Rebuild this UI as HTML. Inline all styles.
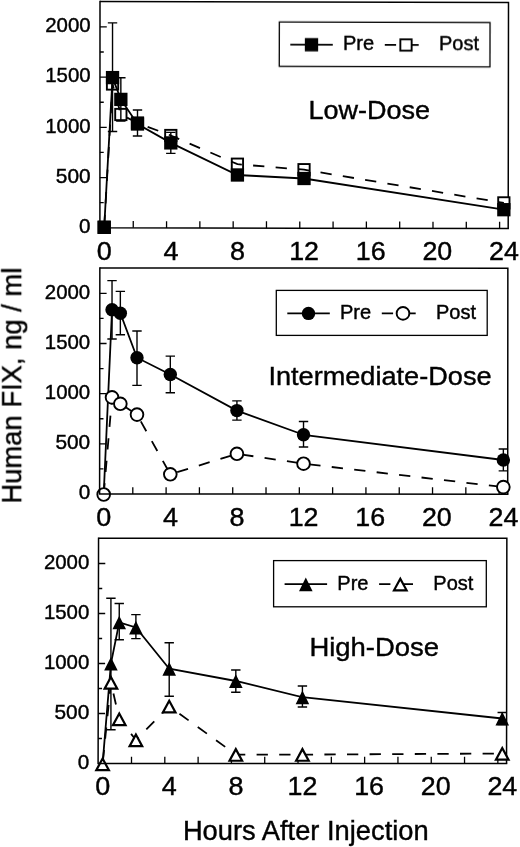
<!DOCTYPE html>
<html lang="en"><head><meta charset="utf-8"><title>Human FIX, ng / ml vs Hours After Injection</title>
<style>
html,body{margin:0;padding:0;background:#fff;}
body{width:520px;height:847px;overflow:hidden;font-family:"Liberation Sans", sans-serif;}
svg{display:block;}
</style></head><body>
<svg width="520" height="847" viewBox="0 0 520 847" font-family='"Liberation Sans", sans-serif' fill="#000">
<style>text{stroke:#000;stroke-width:0.42px;}</style>
<rect width="520" height="847" fill="#fff"/>
<g opacity="0.999">
<g><path d="M100,1.4 L508.5,2.6 L508.2,228.6" fill="none" stroke="#000" stroke-width="1.5" stroke-linejoin="miter"/>
<path d="M99.91,202.69 h3.8 M99.92,177.58 h6.8 M99.93,152.46 h3.8 M99.94,127.35 h6.8 M99.96,102.24 h3.8 M99.97,77.12 h6.8 M99.98,52.01 h3.8 M99.99,26.9 h6.8 M133.25,227.87 v-6.8 M166.56,227.93 v-6.8 M199.86,228 v-6.8 M233.17,228.06 v-6.8 M266.47,228.13 v-6.8 M299.77,228.19 v-6.8 M333.08,228.26 v-6.8 M366.38,228.32 v-6.8 M399.69,228.39 v-6.8 M432.99,228.45 v-6.8 M466.29,228.52 v-6.8 M499.6,228.58 v-6.8 " stroke="#000" stroke-width="1.3" fill="none"/>
<text x="90.6" y="233" font-size="20.4" text-anchor="end" textLength="11.5" lengthAdjust="spacingAndGlyphs">0</text>
<text x="90.6" y="182.78" font-size="20.4" text-anchor="end" textLength="34.8" lengthAdjust="spacingAndGlyphs">500</text>
<text x="90.6" y="132.55" font-size="20.4" text-anchor="end" textLength="45.4" lengthAdjust="spacingAndGlyphs">1000</text>
<text x="90.6" y="82.33" font-size="20.4" text-anchor="end" textLength="45.4" lengthAdjust="spacingAndGlyphs">1500</text>
<text x="90.6" y="32.1" font-size="20.4" text-anchor="end" textLength="45.4" lengthAdjust="spacingAndGlyphs">2000</text>
<text x="104.3" y="259.7" font-size="25.6" text-anchor="middle" textLength="15" lengthAdjust="spacingAndGlyphs">0</text>
<text x="170.91" y="259.7" font-size="25.6" text-anchor="middle" textLength="15" lengthAdjust="spacingAndGlyphs">4</text>
<text x="237.52" y="259.7" font-size="25.6" text-anchor="middle" textLength="15" lengthAdjust="spacingAndGlyphs">8</text>
<text x="304.12" y="259.7" font-size="25.6" text-anchor="middle" textLength="29.8" lengthAdjust="spacingAndGlyphs">12</text>
<text x="370.73" y="259.7" font-size="25.6" text-anchor="middle" textLength="29.8" lengthAdjust="spacingAndGlyphs">16</text>
<text x="437.34" y="259.7" font-size="25.6" text-anchor="middle" textLength="29.8" lengthAdjust="spacingAndGlyphs">20</text>
<text x="503.95" y="259.7" font-size="25.6" text-anchor="middle" textLength="29.8" lengthAdjust="spacingAndGlyphs">24</text>
<rect x="98.55" y="221.65" width="11.3" height="11.3" fill="#fff" stroke="#000" stroke-width="1.9"/>
<rect x="106.88" y="78.35" width="11.3" height="11.3" fill="#fff" stroke="#000" stroke-width="1.9"/>
<rect x="115.2" y="108.85" width="11.3" height="11.3" fill="#fff" stroke="#000" stroke-width="1.9"/>
<rect x="131.85" y="117.35" width="11.3" height="11.3" fill="#fff" stroke="#000" stroke-width="1.9"/>
<rect x="165.16" y="129.85" width="11.3" height="11.3" fill="#fff" stroke="#000" stroke-width="1.9"/>
<rect x="231.77" y="158.55" width="11.3" height="11.3" fill="#fff" stroke="#000" stroke-width="1.9"/>
<rect x="298.37" y="164.05" width="11.3" height="11.3" fill="#fff" stroke="#000" stroke-width="1.9"/>
<rect x="498.2" y="197.25" width="11.3" height="11.3" fill="#fff" stroke="#000" stroke-width="1.9"/>
<polyline points="104.2,227.3 112.53,84 120.85,114.5 137.5,123 170.81,135.5 237.42,164.2 304.02,169.7 503.85,202.9" fill="none" stroke="#000" stroke-width="1.8" stroke-dasharray="11.3 11.3" stroke-dashoffset="-1.3"/>
<polyline points="104.2,227.3 112.53,77.6 120.85,99.4 137.5,124 170.81,142.9 237.42,175 304.02,178.5 503.85,209.7" fill="none" stroke="#000" stroke-width="1.8"/>
<path d="M112.53,22.9 V131.5 M107.83,22.9 h9.4 M107.83,131.5 h9.4 M120.85,77.7 V121 M116.15,77.7 h9.4 M116.15,121 h9.4 M137.5,110 V136 M132.8,110 h9.4 M132.8,136 h9.4 M170.81,132.4 V153.4 M166.11,132.4 h9.4 M166.11,153.4 h9.4 " stroke="#000" stroke-width="1.4" fill="none"/>
<rect x="97.55" y="220.65" width="13.3" height="13.3" fill="#000" stroke="#000" stroke-width="0"/>
<rect x="105.88" y="70.95" width="13.3" height="13.3" fill="#000" stroke="#000" stroke-width="0"/>
<rect x="114.2" y="92.75" width="13.3" height="13.3" fill="#000" stroke="#000" stroke-width="0"/>
<rect x="130.85" y="117.35" width="13.3" height="13.3" fill="#000" stroke="#000" stroke-width="0"/>
<rect x="164.16" y="136.25" width="13.3" height="13.3" fill="#000" stroke="#000" stroke-width="0"/>
<rect x="230.77" y="168.35" width="13.3" height="13.3" fill="#000" stroke="#000" stroke-width="0"/>
<rect x="297.37" y="171.85" width="13.3" height="13.3" fill="#000" stroke="#000" stroke-width="0"/>
<rect x="497.2" y="203.05" width="13.3" height="13.3" fill="#000" stroke="#000" stroke-width="0"/>
<path d="M100,0.65 L99.9,227.8 L508.95,228.6" fill="none" stroke="#000" stroke-width="1.5" stroke-linejoin="miter"/>
<g transform="rotate(0.17 384.65 44.45)">
<rect x="279.3" y="22.3" width="210.7" height="44.3" fill="#fff" stroke="#000" stroke-width="1.3"/>
<path d="M290.3,44.95 h42.5" stroke="#000" stroke-width="1.8"/>
<rect x="304.85" y="38.3" width="13.3" height="13.3" fill="#000" stroke="#000" stroke-width="0"/>
<text x="343" y="50.35" font-size="20" textLength="31.2" lengthAdjust="spacingAndGlyphs">Pre</text>
<path d="M384.8,44.95 h11.3 M407.4,44.95 h11.3" stroke="#000" stroke-width="1.8"/>
<rect x="400.35" y="39.3" width="11.3" height="11.3" fill="#fff" stroke="#000" stroke-width="1.9"/>
<text x="439" y="50.35" font-size="20" textLength="40" lengthAdjust="spacingAndGlyphs">Post</text>
</g>
<text x="308.4" y="118.8" font-size="26.5" textLength="121.7" lengthAdjust="spacingAndGlyphs">Low-Dose</text></g>
<g><path d="M99.85,268 L507.85,268.2 L507.7,494.15" fill="none" stroke="#000" stroke-width="1.5" stroke-linejoin="miter"/>
<path d="M99.63,468.91 h3.8 M99.66,443.82 h6.8 M99.68,418.74 h3.8 M99.71,393.65 h6.8 M99.74,368.56 h3.8 M99.77,343.48 h6.8 M99.79,318.39 h3.8 M99.82,293.3 h6.8 M132.8,494.01 v-6.8 M166.11,494.02 v-6.8 M199.41,494.04 v-6.8 M232.72,494.05 v-6.8 M266.02,494.06 v-6.8 M299.32,494.07 v-6.8 M332.63,494.09 v-6.8 M365.93,494.1 v-6.8 M399.24,494.11 v-6.8 M432.54,494.12 v-6.8 M465.84,494.13 v-6.8 M499.15,494.15 v-6.8 " stroke="#000" stroke-width="1.3" fill="none"/>
<text x="90.2" y="499.2" font-size="20.4" text-anchor="end" textLength="11.5" lengthAdjust="spacingAndGlyphs">0</text>
<text x="90.2" y="449.02" font-size="20.4" text-anchor="end" textLength="34.8" lengthAdjust="spacingAndGlyphs">500</text>
<text x="90.2" y="398.85" font-size="20.4" text-anchor="end" textLength="45.4" lengthAdjust="spacingAndGlyphs">1000</text>
<text x="90.2" y="348.68" font-size="20.4" text-anchor="end" textLength="45.4" lengthAdjust="spacingAndGlyphs">1500</text>
<text x="90.2" y="298.5" font-size="20.4" text-anchor="end" textLength="45.4" lengthAdjust="spacingAndGlyphs">2000</text>
<text x="103.8" y="526.2" font-size="25.6" text-anchor="middle" textLength="15" lengthAdjust="spacingAndGlyphs">0</text>
<text x="170.41" y="526.2" font-size="25.6" text-anchor="middle" textLength="15" lengthAdjust="spacingAndGlyphs">4</text>
<text x="237.02" y="526.2" font-size="25.6" text-anchor="middle" textLength="15" lengthAdjust="spacingAndGlyphs">8</text>
<text x="303.62" y="526.2" font-size="25.6" text-anchor="middle" textLength="29.8" lengthAdjust="spacingAndGlyphs">12</text>
<text x="370.23" y="526.2" font-size="25.6" text-anchor="middle" textLength="29.8" lengthAdjust="spacingAndGlyphs">16</text>
<text x="436.84" y="526.2" font-size="25.6" text-anchor="middle" textLength="29.8" lengthAdjust="spacingAndGlyphs">20</text>
<text x="503.45" y="526.2" font-size="25.6" text-anchor="middle" textLength="29.8" lengthAdjust="spacingAndGlyphs">24</text>
<polyline points="103.7,494 112.03,309.8 120.35,313.3 137,357.7 170.31,374.5 236.92,410.6 303.52,434.8 503.35,460" fill="none" stroke="#000" stroke-width="1.8"/>
<path d="M112.03,280.6 V339 M107.33,280.6 h9.4 M107.33,339 h9.4 M120.35,291.4 V334.8 M115.65,291.4 h9.4 M115.65,334.8 h9.4 M137,331 V385.4 M132.3,331 h9.4 M132.3,385.4 h9.4 M170.31,356.1 V392.8 M165.61,356.1 h9.4 M165.61,392.8 h9.4 M236.92,400.9 V420.1 M232.22,400.9 h9.4 M232.22,420.1 h9.4 M303.52,421.5 V447 M298.82,421.5 h9.4 M298.82,447 h9.4 M503.35,449 V470.9 M498.65,449 h9.4 M498.65,470.9 h9.4 " stroke="#000" stroke-width="1.4" fill="none"/>
<circle cx="112.03" cy="309.8" r="6.7" fill="#000" stroke="#000" stroke-width="0"/>
<circle cx="120.35" cy="313.3" r="6.7" fill="#000" stroke="#000" stroke-width="0"/>
<circle cx="137" cy="357.7" r="6.7" fill="#000" stroke="#000" stroke-width="0"/>
<circle cx="170.31" cy="374.5" r="6.7" fill="#000" stroke="#000" stroke-width="0"/>
<circle cx="236.92" cy="410.6" r="6.7" fill="#000" stroke="#000" stroke-width="0"/>
<circle cx="303.52" cy="434.8" r="6.7" fill="#000" stroke="#000" stroke-width="0"/>
<circle cx="503.35" cy="460" r="6.7" fill="#000" stroke="#000" stroke-width="0"/>
<polyline points="103.7,494.5 112.03,397.4 120.35,403.8 137,414.6 170.31,474.3 236.92,453.8 303.52,463.7 503.35,487.1" fill="none" stroke="#000" stroke-width="1.8" stroke-dasharray="11.3 11.3" stroke-dashoffset="0"/>
<circle cx="103.7" cy="494.5" r="6.35" fill="#fff" stroke="#000" stroke-width="1.9"/>
<circle cx="112.03" cy="397.4" r="6.35" fill="#fff" stroke="#000" stroke-width="1.9"/>
<circle cx="120.35" cy="403.8" r="6.35" fill="#fff" stroke="#000" stroke-width="1.9"/>
<circle cx="137" cy="414.6" r="6.35" fill="#fff" stroke="#000" stroke-width="1.9"/>
<circle cx="170.31" cy="474.3" r="6.35" fill="#fff" stroke="#000" stroke-width="1.9"/>
<circle cx="236.92" cy="453.8" r="6.35" fill="#fff" stroke="#000" stroke-width="1.9"/>
<circle cx="303.52" cy="463.7" r="6.35" fill="#fff" stroke="#000" stroke-width="1.9"/>
<circle cx="503.35" cy="487.1" r="6.35" fill="#fff" stroke="#000" stroke-width="1.9"/>
<path d="M99.85,267.25 L99.6,494 L508.45,494.15" fill="none" stroke="#000" stroke-width="1.5" stroke-linejoin="miter"/>
<g transform="rotate(0 381.75 312.9)">
<rect x="276.3" y="290.4" width="210.9" height="45" fill="#fff" stroke="#000" stroke-width="1.3"/>
<path d="M287.3,313.4 h42.5" stroke="#000" stroke-width="1.8"/>
<circle cx="308.5" cy="313.4" r="6.7" fill="#000" stroke="#000" stroke-width="0"/>
<text x="340" y="318.8" font-size="20" textLength="31.2" lengthAdjust="spacingAndGlyphs">Pre</text>
<path d="M381.8,313.4 h11.3 M404.4,313.4 h11.3" stroke="#000" stroke-width="1.8"/>
<circle cx="403" cy="313.4" r="6.35" fill="#fff" stroke="#000" stroke-width="1.9"/>
<text x="436" y="318.8" font-size="20" textLength="40" lengthAdjust="spacingAndGlyphs">Post</text>
</g>
<text x="268.4" y="385" font-size="26.5" textLength="223.2" lengthAdjust="spacingAndGlyphs">Intermediate-Dose</text></g>
<g><path d="M98.55,538.2 L506.85,538.2 L506.55,763.55" fill="none" stroke="#000" stroke-width="1.5" stroke-linejoin="miter"/>
<path d="M98.15,738.5 h3.8 M98.2,713.5 h6.8 M98.25,688.5 h3.8 M98.3,663.5 h6.8 M98.35,638.5 h3.8 M98.4,613.5 h6.8 M98.45,588.5 h3.8 M98.5,563.5 h6.8 M131.5,763.5 v-6.8 M164.81,763.51 v-6.8 M198.11,763.51 v-6.8 M231.42,763.52 v-6.8 M264.72,763.52 v-6.8 M298.02,763.52 v-6.8 M331.33,763.53 v-6.8 M364.63,763.53 v-6.8 M397.94,763.54 v-6.8 M431.24,763.54 v-6.8 M464.54,763.54 v-6.8 M497.85,763.55 v-6.8 " stroke="#000" stroke-width="1.3" fill="none"/>
<text x="89.3" y="768.7" font-size="20.4" text-anchor="end" textLength="11.5" lengthAdjust="spacingAndGlyphs">0</text>
<text x="89.3" y="718.7" font-size="20.4" text-anchor="end" textLength="34.8" lengthAdjust="spacingAndGlyphs">500</text>
<text x="89.3" y="668.7" font-size="20.4" text-anchor="end" textLength="45.4" lengthAdjust="spacingAndGlyphs">1000</text>
<text x="89.3" y="618.7" font-size="20.4" text-anchor="end" textLength="45.4" lengthAdjust="spacingAndGlyphs">1500</text>
<text x="89.3" y="568.7" font-size="20.4" text-anchor="end" textLength="45.4" lengthAdjust="spacingAndGlyphs">2000</text>
<text x="102.7" y="795.3" font-size="25.6" text-anchor="middle" textLength="15" lengthAdjust="spacingAndGlyphs">0</text>
<text x="169.31" y="795.3" font-size="25.6" text-anchor="middle" textLength="15" lengthAdjust="spacingAndGlyphs">4</text>
<text x="235.92" y="795.3" font-size="25.6" text-anchor="middle" textLength="15" lengthAdjust="spacingAndGlyphs">8</text>
<text x="302.52" y="795.3" font-size="25.6" text-anchor="middle" textLength="29.8" lengthAdjust="spacingAndGlyphs">12</text>
<text x="369.13" y="795.3" font-size="25.6" text-anchor="middle" textLength="29.8" lengthAdjust="spacingAndGlyphs">16</text>
<text x="435.74" y="795.3" font-size="25.6" text-anchor="middle" textLength="29.8" lengthAdjust="spacingAndGlyphs">20</text>
<text x="502.35" y="795.3" font-size="25.6" text-anchor="middle" textLength="29.8" lengthAdjust="spacingAndGlyphs">24</text>
<polyline points="102.6,763.8 110.93,663.6 119.25,622.3 135.9,627.5 169.21,668.7 235.82,681 302.42,697.2 502.25,718.5" fill="none" stroke="#000" stroke-width="1.8"/>
<path d="M110.93,598.2 V729.7 M106.23,598.2 h9.4 M106.23,729.7 h9.4 M119.25,603.5 V639.8 M114.55,603.5 h9.4 M114.55,639.8 h9.4 M135.9,614.6 V638.6 M131.2,614.6 h9.4 M131.2,638.6 h9.4 M169.21,642.8 V696.2 M164.51,642.8 h9.4 M164.51,696.2 h9.4 M235.82,670 V692.2 M231.12,670 h9.4 M231.12,692.2 h9.4 M302.42,686 V707 M297.72,686 h9.4 M297.72,707 h9.4 M502.25,712.5 V724.5 M497.55,712.5 h9.4 M497.55,724.5 h9.4 " stroke="#000" stroke-width="1.4" fill="none"/>
<polygon points="105.43,669.75 116.43,669.75 110.93,658.75" fill="#000" stroke="#000" stroke-width="1.6" stroke-linejoin="miter" stroke-miterlimit="10"/>
<polygon points="113.75,628.45 124.75,628.45 119.25,617.45" fill="#000" stroke="#000" stroke-width="1.6" stroke-linejoin="miter" stroke-miterlimit="10"/>
<polygon points="130.4,633.65 141.4,633.65 135.9,622.65" fill="#000" stroke="#000" stroke-width="1.6" stroke-linejoin="miter" stroke-miterlimit="10"/>
<polygon points="163.71,674.85 174.71,674.85 169.21,663.85" fill="#000" stroke="#000" stroke-width="1.6" stroke-linejoin="miter" stroke-miterlimit="10"/>
<polygon points="230.32,687.15 241.32,687.15 235.82,676.15" fill="#000" stroke="#000" stroke-width="1.6" stroke-linejoin="miter" stroke-miterlimit="10"/>
<polygon points="296.92,703.35 307.92,703.35 302.42,692.35" fill="#000" stroke="#000" stroke-width="1.6" stroke-linejoin="miter" stroke-miterlimit="10"/>
<polygon points="496.75,724.65 507.75,724.65 502.25,713.65" fill="#000" stroke="#000" stroke-width="1.6" stroke-linejoin="miter" stroke-miterlimit="10"/>
<polyline points="102.6,764 110.93,682.5 119.25,719 135.9,740 169.21,706.3 235.82,754.6 302.42,754.6 502.25,753.5" fill="none" stroke="#000" stroke-width="1.8" stroke-dasharray="11.3 11.3" stroke-dashoffset="-2.8"/>
<polygon points="96.3,770.15 108.9,770.15 102.6,758.55" fill="#fff" stroke="#000" stroke-width="2.2" stroke-linejoin="miter" stroke-miterlimit="10"/>
<polygon points="104.63,688.65 117.23,688.65 110.93,677.05" fill="#fff" stroke="#000" stroke-width="2.2" stroke-linejoin="miter" stroke-miterlimit="10"/>
<polygon points="112.95,725.15 125.55,725.15 119.25,713.55" fill="#fff" stroke="#000" stroke-width="2.2" stroke-linejoin="miter" stroke-miterlimit="10"/>
<polygon points="129.6,746.15 142.2,746.15 135.9,734.55" fill="#fff" stroke="#000" stroke-width="2.2" stroke-linejoin="miter" stroke-miterlimit="10"/>
<polygon points="162.91,712.45 175.51,712.45 169.21,700.85" fill="#fff" stroke="#000" stroke-width="2.2" stroke-linejoin="miter" stroke-miterlimit="10"/>
<polygon points="229.52,760.75 242.12,760.75 235.82,749.15" fill="#fff" stroke="#000" stroke-width="2.2" stroke-linejoin="miter" stroke-miterlimit="10"/>
<polygon points="296.12,760.75 308.72,760.75 302.42,749.15" fill="#fff" stroke="#000" stroke-width="2.2" stroke-linejoin="miter" stroke-miterlimit="10"/>
<polygon points="495.95,759.65 508.55,759.65 502.25,748.05" fill="#fff" stroke="#000" stroke-width="2.2" stroke-linejoin="miter" stroke-miterlimit="10"/>
<path d="M98.55,537.45 L98.1,763.5 L507.3,763.55" fill="none" stroke="#000" stroke-width="1.5" stroke-linejoin="miter"/>
<g transform="rotate(0 379.95 583.7)">
<rect x="273.6" y="560.6" width="212.7" height="46.2" fill="#fff" stroke="#000" stroke-width="1.3"/>
<path d="M284.6,584.2 h42.5" stroke="#000" stroke-width="1.8"/>
<polygon points="300.3,590.35 311.3,590.35 305.8,579.35" fill="#000" stroke="#000" stroke-width="1.6" stroke-linejoin="miter" stroke-miterlimit="10"/>
<text x="337.3" y="589.6" font-size="20" textLength="31.2" lengthAdjust="spacingAndGlyphs">Pre</text>
<path d="M379.1,584.2 h11.3 M401.7,584.2 h11.3" stroke="#000" stroke-width="1.8"/>
<polygon points="394,590.35 406.6,590.35 400.3,578.75" fill="#fff" stroke="#000" stroke-width="2.2" stroke-linejoin="miter" stroke-miterlimit="10"/>
<text x="433.3" y="589.6" font-size="20" textLength="40" lengthAdjust="spacingAndGlyphs">Post</text>
</g>
<text x="309.4" y="655.5" font-size="26.5" textLength="129.7" lengthAdjust="spacingAndGlyphs">High-Dose</text></g>
<text x="182.9" y="840.2" font-size="27.5" textLength="245.8" lengthAdjust="spacingAndGlyphs">Hours After Injection</text>
<text transform="translate(21.2,503.6) rotate(-90)" font-size="27.5" textLength="236" lengthAdjust="spacingAndGlyphs">Human FIX, ng / ml</text>
</g></svg>
</body></html>
